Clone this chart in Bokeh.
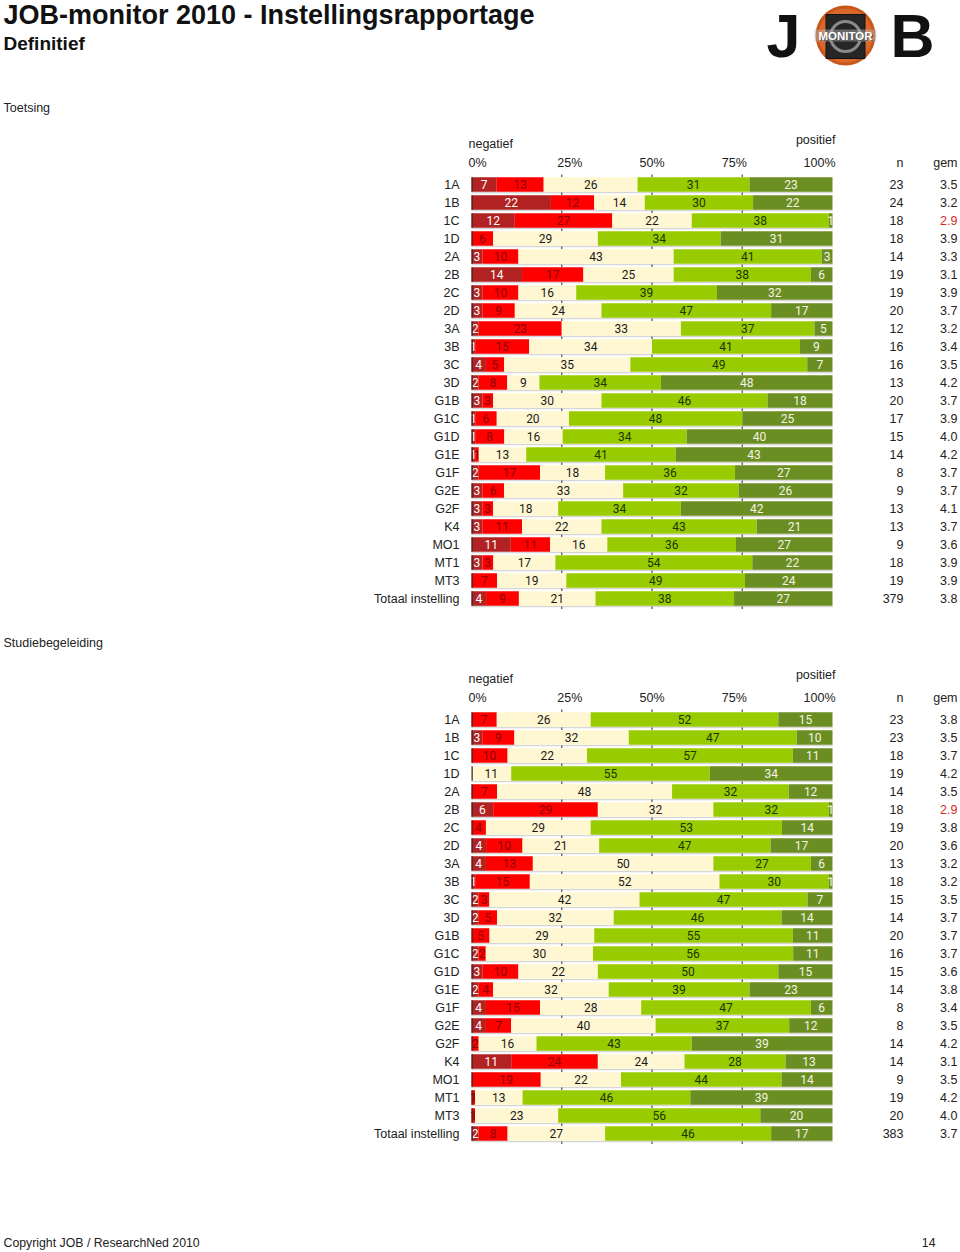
from bokeh.plotting import figure
from bokeh.models import Range1d
from bokeh.embed import file_html
from bokeh.resources import INLINE
from bokeh.core.properties import value

# ---------------- data ----------------
rows = ["1A", "1B", "1C", "1D", "2A", "2B", "2C", "2D", "3A", "3B", "3C", "3D",
        "G1B", "G1C", "G1D", "G1E", "G1F", "G2E", "G2F", "K4", "MO1", "MT1", "MT3",
        "Totaal instelling"]

pct_ticks = [0, 25, 50, 75, 100]
pct_labels = ["0%", "25%", "50%", "75%", "100%"]

# Toetsing
t_zeer_neg = [7, 22, 12, 0, 3, 14, 3, 3, 2, 1, 4, 2, 3, 1, 1, 1, 2, 3, 3, 3, 11, 3, 0, 4]
t_neg      = [13, 12, 27, 6, 10, 17, 10, 9, 23, 15, 5, 8, 3, 6, 8, 1, 17, 6, 3, 11, 11, 3, 7, 9]
t_neutraal = [26, 14, 22, 29, 43, 25, 16, 24, 33, 34, 35, 9, 30, 20, 16, 13, 18, 33, 18, 22, 16, 17, 19, 21]
t_pos      = [31, 30, 38, 34, 41, 38, 39, 47, 37, 41, 49, 34, 46, 48, 34, 41, 36, 32, 34, 43, 36, 54, 49, 38]
t_zeer_pos = [23, 22, 1, 31, 3, 6, 32, 17, 5, 9, 7, 48, 18, 25, 40, 43, 27, 26, 42, 21, 27, 22, 24, 27]
t_n   = [23, 24, 18, 18, 14, 19, 19, 20, 12, 16, 16, 13, 20, 17, 15, 14, 8, 9, 13, 13, 9, 18, 19, 379]
t_gem = [3.5, 3.2, 2.9, 3.9, 3.3, 3.1, 3.9, 3.7, 3.2, 3.4, 3.5, 4.2, 3.7, 3.9, 4.0, 4.2, 3.7, 3.7,
         4.1, 3.7, 3.6, 3.9, 3.9, 3.8]

# Studiebegeleiding
s_zeer_neg = [0, 3, 0, 0, 0, 6, 0, 4, 4, 1, 2, 2, 0, 2, 3, 2, 4, 4, 0, 11, 0, 0, 0, 2]
s_neg      = [7, 9, 10, 0, 7, 29, 4, 10, 13, 15, 3, 5, 5, 2, 10, 4, 15, 7, 2, 24, 19, 1, 1, 8]
s_neutraal = [26, 32, 22, 11, 48, 32, 29, 21, 50, 52, 42, 32, 29, 30, 22, 32, 28, 40, 16, 24, 22, 13, 23, 27]
s_pos      = [52, 47, 57, 55, 32, 32, 53, 47, 27, 30, 47, 46, 55, 56, 50, 39, 47, 37, 43, 28, 44, 46, 56, 46]
s_zeer_pos = [15, 10, 11, 34, 12, 1, 14, 17, 6, 1, 7, 14, 11, 11, 15, 23, 6, 12, 39, 13, 14, 39, 20, 17]
s_n   = [23, 23, 18, 19, 14, 18, 19, 20, 13, 18, 15, 14, 20, 16, 15, 14, 8, 8, 14, 14, 9, 19, 20, 383]
s_gem = [3.8, 3.5, 3.7, 4.2, 3.5, 2.9, 3.8, 3.6, 3.2, 3.2, 3.5, 3.7, 3.7, 3.7, 3.6, 3.8, 3.4, 3.5,
         4.2, 3.1, 3.5, 4.2, 4.0, 3.7]

# ---------------- styling ----------------
SEG_COLORS = ["#B22222", "#FF0000", "#FFF7D2", "#99CC00", "#6B8E23"]
SEG_TEXT = ["#FFFFFF", "#8B0000", "#1A1A1A", "#203300", "#F4F4E4"]
SANS = value("Liberation Sans")
NARROW = value("Roboto")
FS = "12.5px"

W, H = 960, 1252
BAR_L = 471.0   # pixel of 0 %
BAR_W = 361.0   # pixels of 100 %
PITCH = 18.0
BAR_H = 14.5


def X(px):
    """pixel column -> percent units of the x scale"""
    return (px - BAR_L) / BAR_W * 100.0


p = figure(width=W, height=H, x_range=Range1d(X(0), X(W)), y_range=Range1d(H, 0),
           output_backend="svg", toolbar_location=None, min_border=0,
           x_axis_location=None, y_axis_location=None, outline_line_color=None,
           background_fill_color="white", border_fill_color="white")
p.grid.visible = False


def txt(x, y, t, size=FS, color="#222222", align="left", baseline="middle",
        font=SANS, style="normal", x_offset=0):
    p.text(x=x, y=y, text=t, text_font=font, text_font_size=size, text_color=color,
           text_align=align, text_baseline=baseline, text_font_style=style,
           x_offset=x_offset)


def draw_section(top, title, segs, n, gem):
    nrow = len(rows)
    ys = [top + PITCH * i for i in range(nrow)]
    # section title and header texts
    txt([X(3)], [top - 77], [title])
    txt([0], [top - 41], ["negatief"], x_offset=-3)
    txt([100], [top - 45], ["positief"], align="right", x_offset=3)
    aligns = ["left", "center", "center", "center", "right"]
    offs = [-3, 8, 0, -8, 3]
    for tk, lb, al, of in zip(pct_ticks, pct_labels, aligns, offs):
        txt([tk], [top - 22], [lb], align=al, x_offset=of)
    txt([X(903)], [top - 22], ["n"], align="right")
    txt([X(957)], [top - 22], ["gem"], align="right")

    # row labels
    txt([X(459)] * nrow, ys, rows, align="right")

    # light underline / shadow of each bar
    p.hbar(y=[y + BAR_H / 2 + 0.8 for y in ys], left=0, right=100, height=1.4,
           fill_color="#D6D6D6", line_color=None)

    # stacked segments
    totals = [sum(s[i] for s in segs) for i in range(nrow)]
    cum = [0.0] * nrow
    for k, seg in enumerate(segs):
        lefts = [cum[i] / totals[i] * 100 for i in range(nrow)]
        rights = [(cum[i] + seg[i]) / totals[i] * 100 for i in range(nrow)]
        p.hbar(y=ys, left=lefts, right=rights, height=BAR_H,
               fill_color=SEG_COLORS[k], line_color=None)
        lx, ly, lt = [], [], []
        for i in range(nrow):
            if seg[i] > 0:
                lx.append((lefts[i] + rights[i]) / 2)
                ly.append(ys[i])
                lt.append(str(seg[i]))
        txt(lx, ly, lt, size="12px", color=SEG_TEXT[k], align="center", font=NARROW)
        cum = [cum[i] + seg[i] for i in range(nrow)]

    # dark left edge of each bar
    p.hbar(y=ys, left=0, right=0.35, height=BAR_H, fill_color="#3A2A2A", line_color=None)

    # small tick marks at 25/50/75 %
    tx, ty = [], []
    for y in ys + [ys[-1] + PITCH]:
        for tk in pct_ticks[1:-1]:
            tx.append(tk)
            ty.append(y - BAR_H / 2 - 1.6)
    p.rect(x=tx, y=ty, width=0.35, height=2.5, fill_color="#555555", line_color=None)

    # n and gem columns
    txt([X(903)] * nrow, ys, [str(v) for v in n], align="right")
    gem_col = ["#D42A2A" if g < 3.0 else "#222222" for g in gem]
    txt([X(957)] * nrow, ys, ["%.1f" % g for g in gem], color=gem_col, align="right")


# ---------------- header ----------------
txt([X(3)], [14.5], ["JOB-monitor 2010 - Instellingsrapportage"], size="27px",
    style="bold", color="#111111")
txt([X(3)], [43], ["Definitief"], size="19px", style="bold", color="#111111")

# logo
LX, LY = X(845), 35
txt([X(783)], [35], ["J"], size="61px", style="bold", align="center", color="#111111")
txt([X(912)], [35], ["B"], size="61px", style="bold", align="center", color="#111111")
for sz, col in [(60, "#C9571C"), (54, "#D9682B"), (44, "#E57B3C"), (32, "#EE9056")]:
    p.scatter(x=[LX], y=[LY], size=sz, marker="circle", fill_color=col, line_color=None)
p.rect(x=[LX], y=[LY + 1], width=39 / BAR_W * 100, height=44, fill_color="#262626",
       line_color="#111111")
p.scatter(x=[LX], y=[LY + 1], size=30, marker="circle", fill_color=None,
          line_color="#8A8A8A", line_width=3)
p.rect(x=[LX], y=[LY], width=62 / BAR_W * 100, height=12, fill_color="#BBBBBB",
       fill_alpha=0.45, line_color=None)
txt([LX], [LY + 1], ["MONITOR"], size="11.5px", style="bold", align="center",
    color="#555555", x_offset=1)
txt([LX], [LY], ["MONITOR"], size="11.5px", style="bold", align="center",
    color="#FFFFFF")

# ---------------- sections ----------------
draw_section(184, "Toetsing",
             [t_zeer_neg, t_neg, t_neutraal, t_pos, t_zeer_pos], t_n, t_gem)
draw_section(719, "Studiebegeleiding",
             [s_zeer_neg, s_neg, s_neutraal, s_pos, s_zeer_pos], s_n, s_gem)

# ---------------- footer ----------------
txt([X(3)], [1242], ["Copyright JOB / ResearchNed 2010"], size="12.3px")
txt([X(935)], [1242], ["14"], size="12.3px", align="right")

open("out.html", "w").write(file_html(p, INLINE))
